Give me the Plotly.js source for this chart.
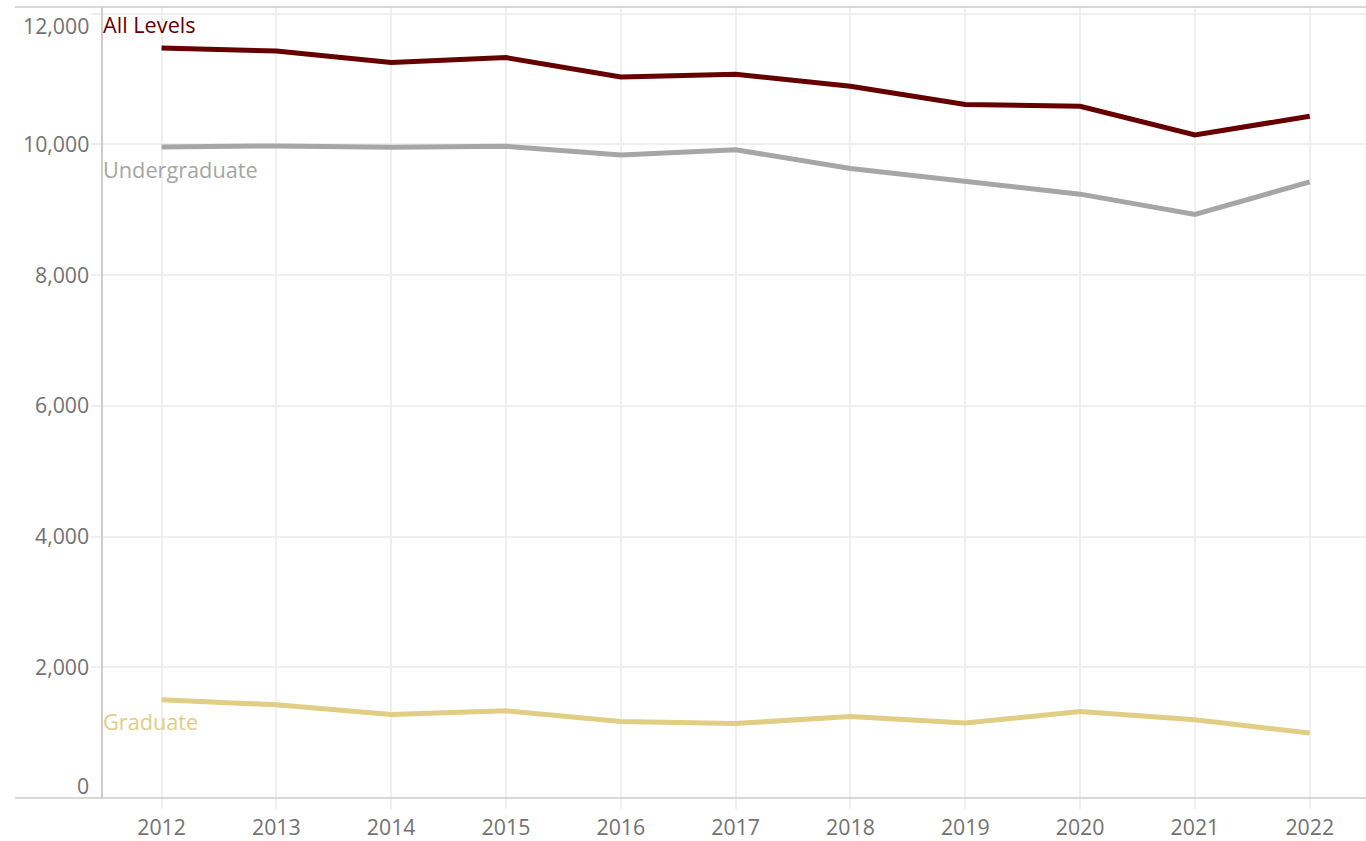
<!DOCTYPE html>
<html>
<head>
<meta charset="utf-8">
<script src="https://cdn.plot.ly/plotly-3.0.1.min.js"></script>
<style>html,body{margin:0;padding:0;background:#fff;}#chart{width:1366px;height:841px;}</style>
</head>
<body>
<div id="chart"></div>
<script>
const years = [2012, 2013, 2014, 2015, 2016, 2017, 2018, 2019, 2020, 2021, 2022];
const allLevels = [11473, 11427, 11250, 11326, 11030, 11071, 10887, 10608, 10582, 10143, 10429];
const undergraduate = [9960, 9975, 9955, 9970, 9837, 9917, 9629, 9440, 9237, 8926, 9425];
const graduate = [1502, 1426, 1278, 1334, 1171, 1140, 1247, 1146, 1324, 1197, 994];
const seriesNames = ['All Levels', 'Undergraduate', 'Graduate'];
const yTickVals = [0, 2000, 4000, 6000, 8000, 10000, 12000];
const yTickText = ['0', '2,000', '4,000', '6,000', '8,000', '10,000', '12,000'];

const colors = ['#660000', '#a6a6a6', '#e1cd83'];
const seriesData = [allLevels, undergraduate, graduate];
const labelShift = [23, -23, -22];
const FONT = 'Open Sans, sans-serif';
const TICKCOL = '#727272';

const traces = seriesData.map((vals, i) => ({
  x: years, y: vals, name: seriesNames[i], type: 'scatter', mode: 'lines',
  line: {color: colors[i], width: 5}, hoverinfo: 'x+y+name'
}));

const annotations = [];
seriesData.forEach((vals, i) => {
  annotations.push({
    xref: 'paper', x: 0, yref: 'y', y: vals[0], yshift: labelShift[i],
    xanchor: 'left', yanchor: 'middle', xshift: -2,
    text: seriesNames[i], showarrow: false,
    font: {family: FONT, size: 21.7, color: colors[i]}
  });
});
yTickVals.forEach((v, i) => {
  let ys = 1;
  if (i === 0) ys = 13;
  if (i === yTickVals.length - 1) ys = -12;
  annotations.push({
    xref: 'paper', x: 0, xshift: -12, xanchor: 'right', yref: 'y', y: v, yshift: ys,
    yanchor: 'middle', text: yTickText[i], showarrow: false,
    font: {family: FONT, size: 21.3, color: TICKCOL}
  });
});

const layout = {
  width: 1366, height: 841,
  margin: {l: 103, r: 0, t: 7, b: 43},
  paper_bgcolor: '#ffffff', plot_bgcolor: '#ffffff',
  showlegend: false,
  xaxis: {
    range: [2011.49, 2022.49], tickvals: years, ticktext: years.map(String),
    showgrid: true, gridcolor: '#efefef', gridwidth: 1.5,
    ticks: 'outside', ticklen: 10, tickcolor: '#efefef', tickwidth: 1.5,
    tickfont: {family: FONT, size: 21.3, color: TICKCOL},
    showline: false, zeroline: false, fixedrange: true
  },
  yaxis: {
    range: [0, 12100], tickvals: yTickVals, showticklabels: false,
    showgrid: true, gridcolor: '#efefef', gridwidth: 1.5,
    ticks: 'outside', ticklen: 10, tickcolor: '#efefef', tickwidth: 1.5,
    showline: true, linecolor: '#cccccc', linewidth: 1.5, zeroline: false, fixedrange: true
  },
  shapes: [
    {type: 'line', xref: 'paper', yref: 'paper', x0: -0.0697, x1: 1, y0: 1, y1: 1, line: {color: '#cccccc', width: 1.5}},
    {type: 'line', xref: 'paper', yref: 'paper', x0: -0.0697, x1: 1, y0: 0, y1: 0, line: {color: '#cccccc', width: 1.5}}
  ],
  annotations: annotations
};

Plotly.newPlot('chart', traces, layout, {displayModeBar: false, staticPlot: false});
</script>
</body>
</html>
